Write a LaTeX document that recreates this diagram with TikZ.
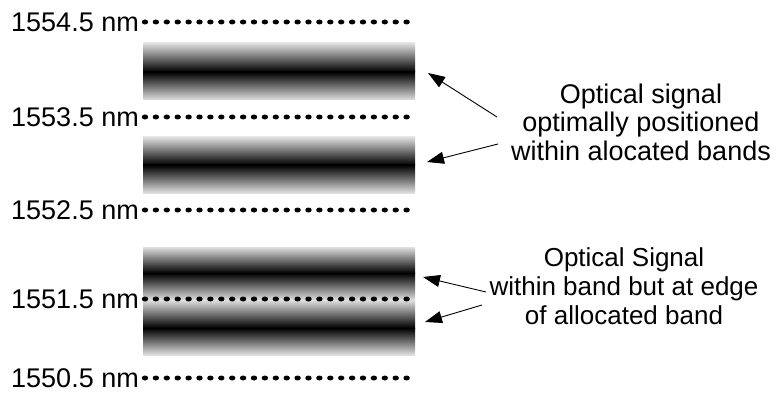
\documentclass[tikz,border=0pt]{standalone}
\usepackage{fontspec}
\setmainfont{Liberation Sans}
\usetikzlibrary{arrows.meta,calc,positioning}

\tikzset{
  nmlabel/.style={anchor=east,inner sep=0pt,font=\fontsize{27}{28.5}\selectfont},
  notetext/.style={align=center,inner sep=0pt,font=\fontsize{27}{28.5}\selectfont},
  pointer/.style={-{Triangle[length=17pt,width=12pt]},line width=0.9pt}
}

\begin{document}
\begin{tikzpicture}[x=1pt,y=-1pt]
  \useasboundingbox (0,0) rectangle (781,398);
  % signal bands (light - black - light)
  \foreach \top/\mid/\bot in {43/72/100,137/165/193,247/273/300,300/328/355} {
    \shade[top color=black!12,bottom color=black] (143,\top) rectangle (415,\mid);
    \shade[top color=black,bottom color=black!12] (143,\mid) rectangle (415,\bot);
  }
  % channel grid
  \foreach \y/\wl/\n in {22/1554.5/a,117/1553.5/b,210/1552.5/c,299/1551.5/d,378/1550.5/e} {
    \node[nmlabel] (nm\n) at (139,\y) {\wl\ nm};
    \foreach \i in {0,...,24}
      \fill ($(nm\n.east)+(6+\i*10.9,0)$) ellipse (3.2 and 2.5);
  }
  % notes
  \node[notetext] (optimal) at (641,122) {Optical signal\\optimally positioned\\within alocated bands};
  \node[notetext,font=\fontsize{26}{29}\selectfont] (edge) at (624,286) {Optical Signal\\within band but at edge\\of allocated band};
  \coordinate (opt1) at (497,117);
  \coordinate (opt2) at (498,144);
  \coordinate (edg1) at (486,292);
  \coordinate (edg2) at (482,305);
  \coordinate (band1) at (428,73);
  \coordinate (band2) at (427,162);
  \coordinate (band3) at (423,277);
  \coordinate (band4) at (425,322);
  \draw[pointer] (opt1) -- (band1);
  \draw[pointer] (opt2) -- (band2);
  \draw[pointer] (edg1) -- (band3);
  \draw[pointer] (edg2) -- (band4);
\end{tikzpicture}
\end{document}
